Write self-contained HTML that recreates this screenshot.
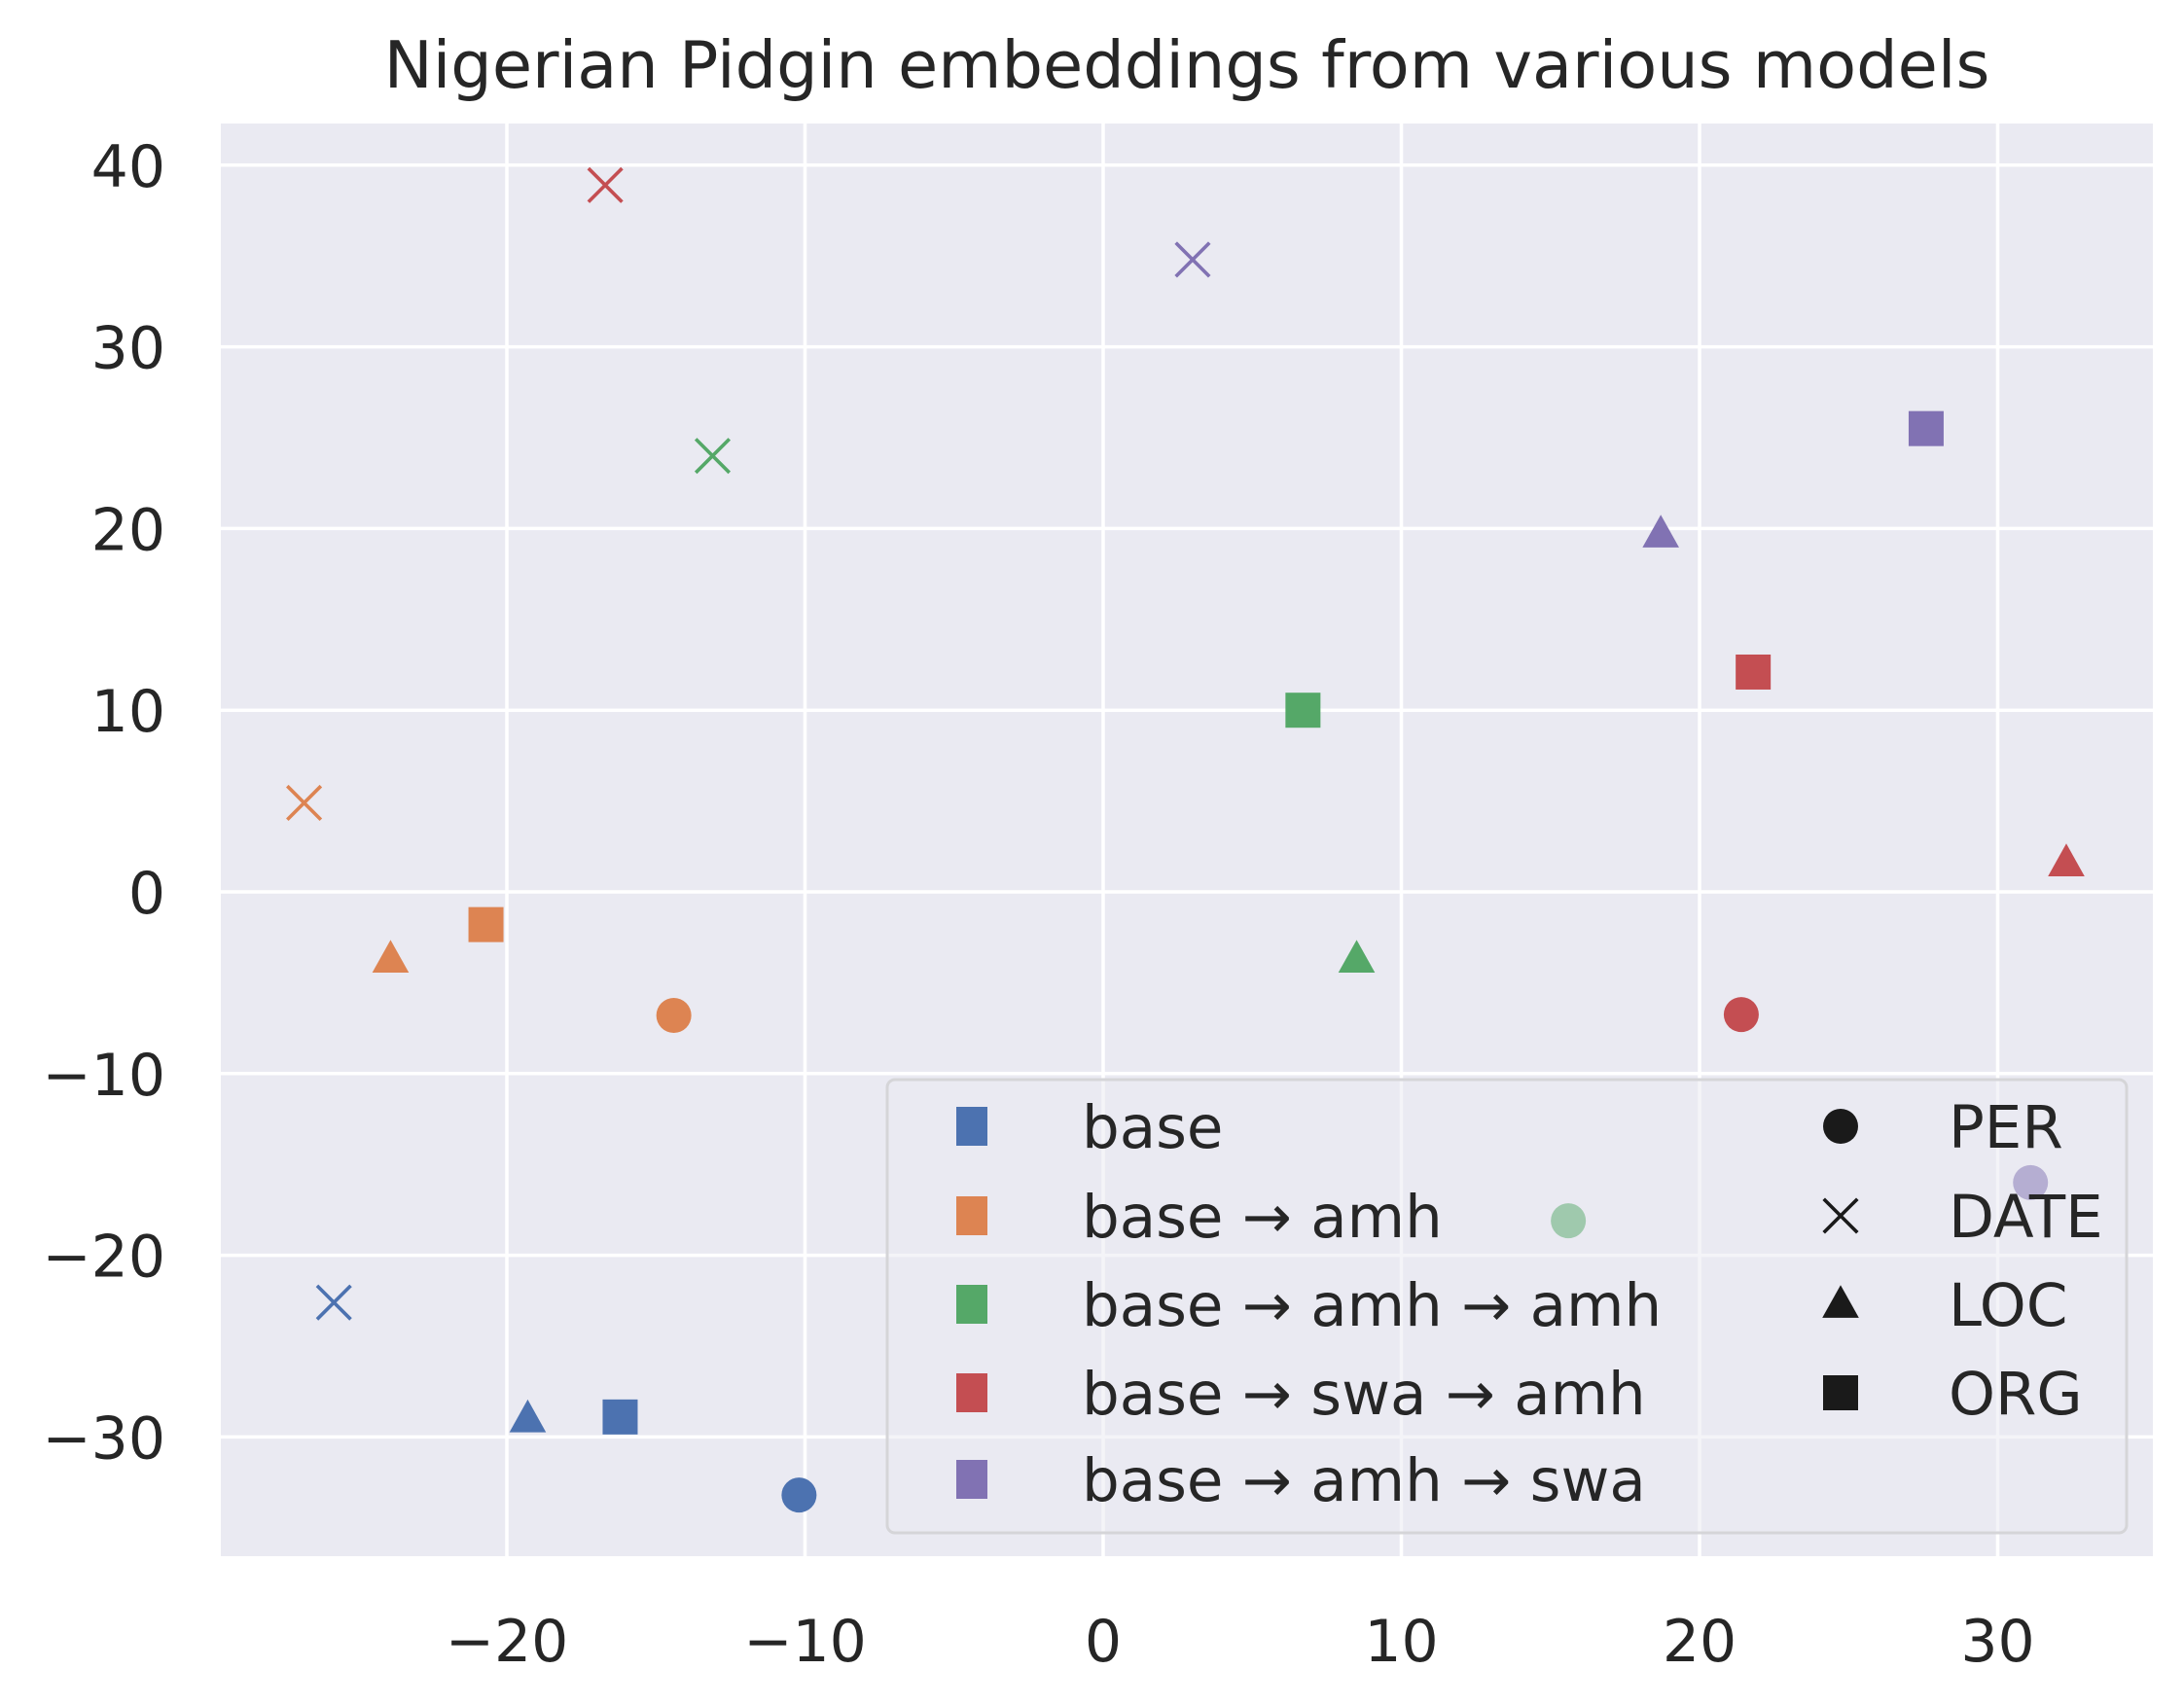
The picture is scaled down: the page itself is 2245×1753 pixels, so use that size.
<!DOCTYPE html>
<html><head><meta charset="utf-8"><style>
html,body{margin:0;padding:0;background:#fff;}
svg{display:block;font-family:"DejaVu Sans","Liberation Sans",sans-serif;}
</style></head><body>
<svg id="chart" width="2245" height="1753" viewBox="0 0 2245 1753" xmlns="http://www.w3.org/2000/svg">
<rect x="0" y="0" width="2245" height="1753" fill="#ffffff"/>
<text x="1220" y="90" font-size="67" text-anchor="middle" fill="#262626">Nigerian Pidgin embeddings from various models</text>
<rect x="227" y="127" width="1986" height="1473" fill="#eaeaf2"/>
<g id="grid"></g>
<g id="ticks"></g>
<g id="marks"></g>
<g id="legend"></g>
</svg>
<script>
const models = ["base", "base → amh", "base → amh → amh", "base → swa → amh", "base → amh → swa"];
const modelColors = ["#4c72b0", "#dd8452", "#55a868", "#c44e52", "#8172b3"];
const entities = ["PER", "DATE", "LOC", "ORG"];
// values per model in order PER, DATE, LOC, ORG
const xBase = [-10.2, -25.8, -19.3, -16.2];
const yBase = [-33.2, -22.6, -29.0, -28.9];
const xAmh = [-14.4, -26.8, -23.9, -20.7];
const yAmh = [-6.8, 4.9, -3.7, -1.8];
const xAmhAmh = [15.6, -13.1, 8.5, 6.7];
const yAmhAmh = [-18.1, 24.0, -3.7, 10.0];
const xSwaAmh = [21.4, -16.7, 32.3, 21.8];
const ySwaAmh = [-6.75, 38.9, 1.6, 12.1];
const xAmhSwa = [31.1, 3.0, 18.7, 27.6];
const yAmhSwa = [-16.0, 34.8, 19.7, 25.5];
const xTicks = [-20, -10, 0, 10, 20, 30];
const yTicks = [-30, -20, -10, 0, 10, 20, 30, 40];
const xTickLabels = ["−20", "−10", "0", "10", "20", "30"];
const yTickLabels = ["−30", "−20", "−10", "0", "10", "20", "30", "40"];

const seriesX = [xBase, xAmh, xAmhAmh, xSwaAmh, xAmhSwa];
const seriesY = [yBase, yAmh, yAmhAmh, ySwaAmh, yAmhSwa];
const NS = "http://www.w3.org/2000/svg";
const L = 227, R = 2213, T = 127, B = 1600;
function sx(v){ return 1134 + v * 30.65; }
function sy(v){ return 917 - v * 18.68; }
function mk(tag, attrs, parent){
  const e = document.createElementNS(NS, tag);
  for (const k in attrs) e.setAttribute(k, attrs[k]);
  parent.appendChild(e);
  return e;
}
const grid = document.getElementById('grid');
const ticks = document.getElementById('ticks');
xTicks.forEach((v, i) => {
  const ln = mk('line', {x1: sx(v), x2: sx(v), y1: T, y2: B, stroke: '#fff', 'stroke-width': 3.5}, grid);
  
  
  const t = mk('text', {x: sx(v), y: 1708, 'font-size': 60, 'text-anchor': 'middle', fill: '#262626'}, ticks);
  t.textContent = xTickLabels[i];
  
  
});
yTicks.forEach((v, i) => {
  const ln = mk('line', {x1: L, x2: R, y1: sy(v), y2: sy(v), stroke: '#fff', 'stroke-width': 3.5}, grid);
  
  
  const t = mk('text', {x: 170, y: sy(v) + 22, 'font-size': 60, 'text-anchor': 'end', fill: '#262626'}, ticks);
  t.textContent = yTickLabels[i];
  
  
});
function marker(parent, shape, cx, cy, color, s){
  let e;
  if (shape === 'PER') {
    e = mk('ellipse', {cx: cx, cy: cy, rx: s*0.5, ry: s*0.5, fill: color}, parent);
  } else if (shape === 'DATE') {
    const h = s*0.48;
    e = mk('path', {d: `M${cx-h},${cy-h}L${cx+h},${cy+h}M${cx-h},${cy+h}L${cx+h},${cy-h}`, stroke: color, 'stroke-width': 3.6, fill: 'none'}, parent);
  } else if (shape === 'LOC') {
    const h = s*0.55;
    e = mk('polygon', {points: `${cx},${cy-h} ${cx+h*0.95},${cy+h*0.7} ${cx-h*0.95},${cy+h*0.7}`, fill: color}, parent);
  } else {
    const h = s*0.5;
    e = mk('rect', {x: cx-h, y: cy-h, width: 2*h, height: 2*h, fill: color}, parent);
  }
  return e;
}
const marks = document.getElementById('marks');
seriesX.forEach((xs, m) => {
  xs.forEach((xv, k) => {
    const e = marker(marks, entities[k], sx(xv), sy(seriesY[m][k]), modelColors[m], 36);
    
    
  });
});
// legend
const lg = document.getElementById('legend');
const box = mk('rect', {x: 912, y: 1110, width: 1274, height: 466, rx: 8, fill: '#eaeaf2', 'fill-opacity': 0.5, stroke: '#d5d5d8', 'stroke-width': 3}, lg);


const rowY = [1158, 1250, 1341, 1432, 1521];
models.forEach((name, i) => {
  const r = mk('rect', {x: 983, y: rowY[i] - 20, width: 32, height: 40, fill: modelColors[i]}, lg);
  
  
  const t = mk('text', {x: 1112, y: rowY[i] + 22, 'font-size': 61, fill: '#262626'}, lg);
  t.textContent = name;
  
  
});
entities.forEach((name, i) => {
  const e = marker(lg, name, 1892, rowY[i], '#1a1a1a', 36);
  
  
  const t = mk('text', {x: 2003, y: rowY[i] + 22, 'font-size': 61, fill: '#262626'}, lg);
  t.textContent = name;
  
  
});
</script>
</body></html>
